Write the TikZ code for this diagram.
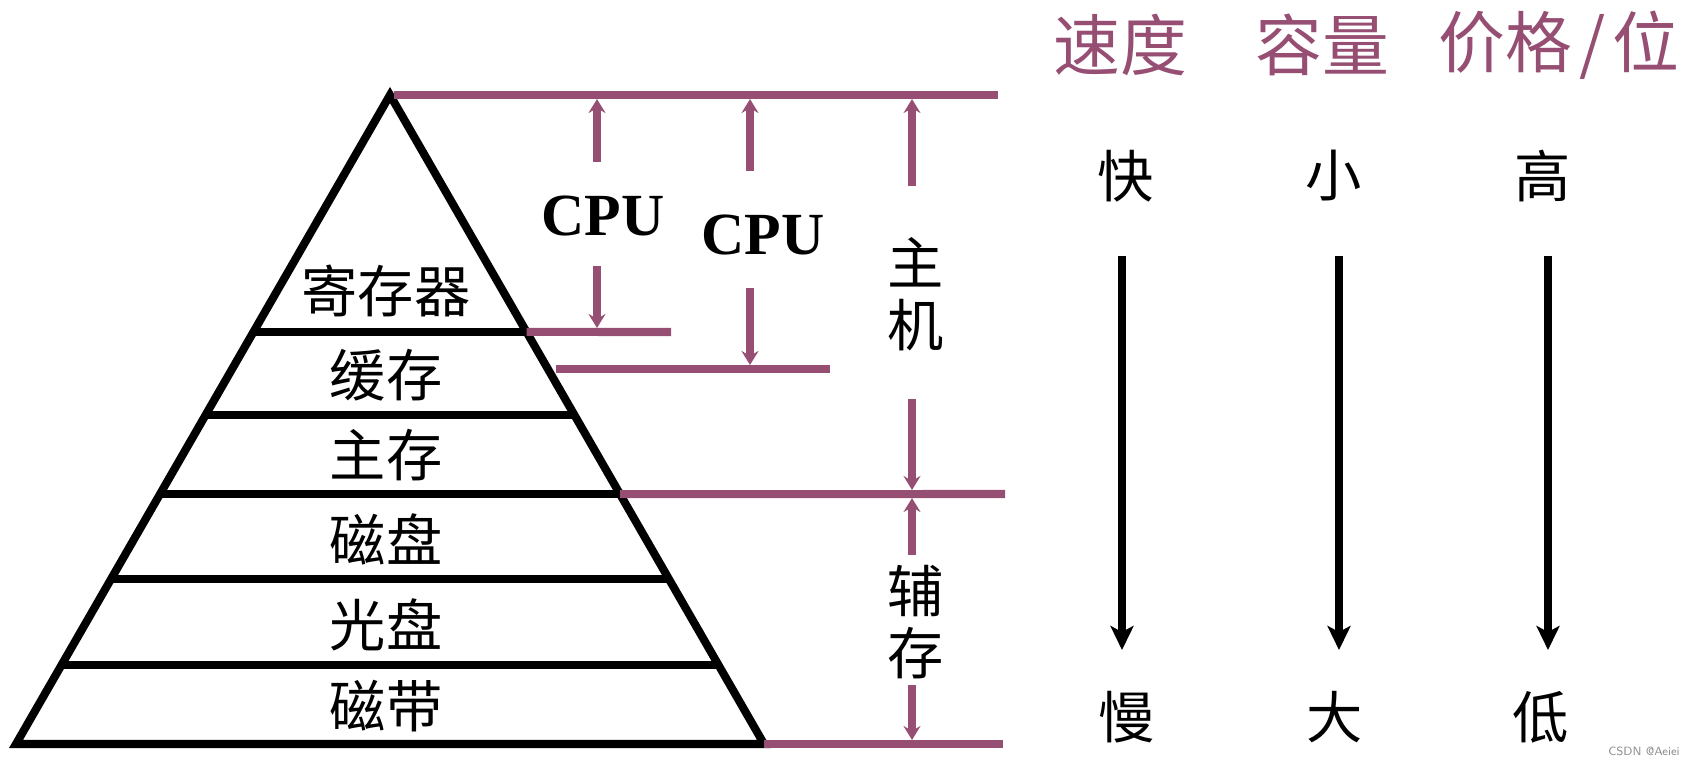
\documentclass[tikz,border=0pt]{standalone}
\usepackage{fontspec}
\setmainfont{Liberation Serif}
\newfontfamily\cjk{Noto Sans CJK SC}
\usepackage{xcolor}
\usepackage{tikz}
\usetikzlibrary{arrows.meta,calc,positioning}
\definecolor{hierpurple}{RGB}{150,78,114}

\begin{document}
\begin{tikzpicture}[
  x=0.01cm, y=-0.01cm,
  pyr/.style={black, line width=2.3pt},
  bus/.style={hierpurple, line width=2.3pt},
  marrow/.style={hierpurple, line width=2.2pt, -{Stealth[length=0.14cm, width=0.17cm, inset=0.05cm]}, shorten >=1.15pt},
  karrow/.style={black, line width=2.3pt, -{Stealth[length=0.24cm, width=0.23cm, inset=0.06cm]}},
  layer/.style={font=\cjk\fontsize{16}{16}\selectfont, inner sep=0pt},
  side/.style={font=\cjk\fontsize{16}{17.5}\selectfont, inner sep=0pt, align=center},
  cpu/.style={font=\bfseries\fontsize{17}{17}\selectfont, inner sep=0pt},
  head/.style={font=\cjk\fontsize{19}{19}\selectfont, text=hierpurple, inner sep=0pt},
  trend/.style={font=\cjk\fontsize{16}{16}\selectfont, inner sep=0pt}
]
\useasboundingbox (0,0) rectangle (1691,763);

% Pyramid
\coordinate (apex) at (390,95);
\coordinate (bl) at (16,744);
\coordinate (br) at (764,744);
\draw[pyr] (apex) -- (bl) -- (br) -- cycle;
\foreach \t/\n in {0.365/l1, 0.493/l2, 0.615/l3, 0.746/l4, 0.878/l5}
  \draw[pyr] ($(apex)!\t!(bl)$) coordinate (\n-w) -- ($(apex)!\t!(br)$) coordinate (\n-e);

% Layer labels
\node[layer] (reg)   at (386,291) {寄存器};
\node[layer] (cache) at (386,375) {缓存};
\node[layer] (mem)   at (386,455) {主存};
\node[layer] (disk)  at (386,539) {磁盘};
\node[layer] (cd)    at (386,625) {光盘};
\node[layer] (tape)  at (386,706) {磁带};

% Purple boundary lines
\coordinate (topL) at (394,95);
\coordinate (topR) at (998,95);
\coordinate (regR) at (671,332);
\coordinate (cacheL) at (556,369);
\coordinate (cacheR) at (830,369);
\coordinate (memR) at (1005,494);
\coordinate (botR) at (1003,744);
\draw[bus] (topL) -- (topR);
\draw[bus] (l1-e) -- (regR);
\draw[bus] (cacheL) -- (cacheR);
\draw[bus] (l3-e) -- (memR);
\draw[bus] (br) -- (botR);

% Span labels
\node[cpu] (cpuA) at (603,216) {CPU};
\node[cpu] (cpuB) at (763,235) {CPU};
\node[side] (host) at (916,294) {主\\机};
\node[side] (aux)  at (916,622) {辅\\存};

% Span arrows
\coordinate (a1) at (597,162);
\coordinate (a2) at (597,266);
\coordinate (b1) at (750,171);
\coordinate (b2) at (750,288);
\coordinate (c1) at (912,186);
\coordinate (c2) at (912,399);
\coordinate (d1) at (912,555);
\coordinate (d2) at (912,685);
\draw[marrow] (a1) -- (a1 |- topL);
\draw[marrow] (a2) -- (a2 |- regR);
\draw[marrow] (b1) -- (b1 |- topL);
\draw[marrow] (b2) -- (b2 |- cacheR);
\draw[marrow] (c1) -- (c1 |- topL);
\draw[marrow] (c2) -- (c2 |- memR);
\draw[marrow] (d1) -- (d1 |- memR);
\draw[marrow] (d2) -- (d2 |- botR);

% Trend columns
\node[head] (speed) at (1120,45) {速度};
\node[head] (size)  at (1322,45) {容量};
\node[head] (cost)  at (1559,45) {价格\kern2pt/\kern2pt位};

\node[trend] (fast)  at (1126,176) {快};
\node[trend] (small) at (1334,176) {小};
\node[trend] (high)  at (1543,176) {高};
\node[trend] (slow)  at (1127,717) {慢};
\node[trend] (big)   at (1335,717) {大};
\node[trend] (low)   at (1541,717) {低};

\coordinate (s1) at (1122,256);
\coordinate (s2) at (1339,256);
\coordinate (s3) at (1548,256);
\draw[karrow] (s1) -- (1122,650);
\draw[karrow] (s2) -- (1339,650);
\draw[karrow] (s3) -- (1548,650);

% Watermark
\node[font=\sffamily\fontsize{3.4}{4}\selectfont, text=black!45, inner sep=0pt] (mark) at (1644,751) {CSDN @Aeiei};

\end{tikzpicture}
\end{document}
